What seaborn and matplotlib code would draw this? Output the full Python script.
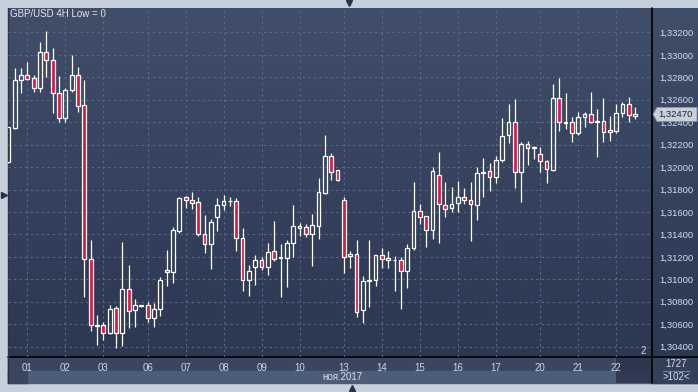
import numpy as np
import pandas as pd
import matplotlib.pyplot as plt
import matplotlib.transforms as mtransforms
from matplotlib.ticker import FuncFormatter, FixedLocator
import seaborn as sns

# GBP/USD 4H candles, 31 Oct 2017 12:00 .. 22 Nov 2017 12:00
opens = [1.32042, 1.32352, 1.32774, 1.32818, 1.32791, 1.32702, 1.33023, 1.32952, 1.32658, 1.32435,
         1.32684, 1.32818, 1.32551, 1.31178, 1.30586, 1.30589, 1.30524, 1.30741, 1.30524, 1.30913,
         1.30723, 1.30764, 1.30767, 1.30658, 1.30732, 1.31080, 1.31068, 1.31433, 1.31730, 1.31704,
         1.31686, 1.31401, 1.31311, 1.31558, 1.31659, 1.31695, 1.31695, 1.31365, 1.30990, 1.31112,
         1.31169, 1.31112, 1.31249, 1.31190, 1.31192, 1.31320, 1.31478, 1.31463, 1.31406, 1.31478,
         1.31769, 1.32096, 1.31971, 1.31704, 1.31204, 1.31222, 1.30723, 1.30984, 1.30996, 1.31213,
         1.31187, 1.31169, 1.31169, 1.31071, 1.31276, 1.31606, 1.31561, 1.31436, 1.31927, 1.31659,
         1.31632, 1.31677, 1.31730, 1.31704, 1.31665, 1.31947, 1.31962, 1.31909, 1.32060, 1.32283,
         1.32399, 1.31953, 1.32203, 1.32170, 1.32114, 1.32051, 1.31974, 1.32613, 1.32396, 1.32399,
         1.32301, 1.32444, 1.32470, 1.32405, 1.32408, 1.32310, 1.32325, 1.32479, 1.32560, 1.32453]
closes = [1.32355, 1.32774, 1.32818, 1.32783, 1.32702, 1.33023, 1.32952, 1.32658, 1.32435, 1.32684,
          1.32818, 1.32545, 1.31178, 1.30589, 1.30592, 1.30524, 1.30732, 1.30524, 1.30913, 1.30714,
          1.30767, 1.30767, 1.30652, 1.30732, 1.30990, 1.31062, 1.31436, 1.31722, 1.31704, 1.31683,
          1.31401, 1.31311, 1.31508, 1.31659, 1.31695, 1.31701, 1.31365, 1.30993, 1.31071, 1.31169,
          1.31112, 1.31240, 1.31184, 1.31195, 1.31320, 1.31472, 1.31454, 1.31406, 1.31481, 1.31775,
          1.32096, 1.31959, 1.31888, 1.31201, 1.31222, 1.30711, 1.30981, 1.30990, 1.31213, 1.31184,
          1.31169, 1.31175, 1.31071, 1.31276, 1.31606, 1.31552, 1.31436, 1.31962, 1.31668, 1.31623,
          1.31671, 1.31733, 1.31704, 1.31668, 1.31944, 1.31953, 1.31909, 1.32060, 1.32274, 1.32399,
          1.31953, 1.32203, 1.32167, 1.32176, 1.32051, 1.31980, 1.32613, 1.32399, 1.32402, 1.32301,
          1.32444, 1.32470, 1.32399, 1.32411, 1.32310, 1.32328, 1.32479, 1.32560, 1.32462, 1.32470]
highs = [1.32360, 1.32881, 1.32881, 1.32937, 1.32818, 1.33115, 1.33214, 1.33062, 1.32812, 1.32705,
         1.33000, 1.32892, 1.32777, 1.31350, 1.30681, 1.30619, 1.30770, 1.30762, 1.31335, 1.31127,
         1.30821, 1.30773, 1.30794, 1.30785, 1.31020, 1.31261, 1.31463, 1.31733, 1.31745, 1.31778,
         1.31730, 1.31570, 1.31537, 1.31722, 1.31748, 1.31730, 1.31722, 1.31454, 1.31124, 1.31216,
         1.31198, 1.31323, 1.31519, 1.31314, 1.31350, 1.31662, 1.31502, 1.31493, 1.31582, 1.31903,
         1.32283, 1.32123, 1.31974, 1.31730, 1.31252, 1.31350, 1.31029, 1.31350, 1.31216, 1.31276,
         1.31252, 1.31207, 1.31195, 1.31311, 1.31867, 1.31671, 1.31564, 1.32001, 1.32135, 1.31867,
         1.31823, 1.31876, 1.31814, 1.31867, 1.32001, 1.32081, 1.32037, 1.32099, 1.32435, 1.32563,
         1.32607, 1.32221, 1.32230, 1.32191, 1.32179, 1.32063, 1.32741, 1.32794, 1.32661, 1.32447,
         1.32491, 1.32491, 1.32670, 1.32518, 1.32613, 1.32456, 1.32563, 1.32583, 1.32625, 1.32533]
lows = [1.32034, 1.32343, 1.32664, 1.32777, 1.32673, 1.32673, 1.32806, 1.32485, 1.32405, 1.32405,
        1.32673, 1.32494, 1.30845, 1.30542, 1.30414, 1.30458, 1.30512, 1.30384, 1.30408, 1.30562,
        1.30577, 1.30753, 1.30622, 1.30571, 1.30675, 1.30943, 1.30967, 1.31415, 1.31638, 1.31629,
        1.31389, 1.31237, 1.31094, 1.31433, 1.31618, 1.31656, 1.31255, 1.30898, 1.30854, 1.30949,
        1.31083, 1.31041, 1.31166, 1.30845, 1.30934, 1.31201, 1.31389, 1.31377, 1.31121, 1.31362,
        1.31760, 1.31885, 1.31879, 1.31059, 1.31103, 1.30666, 1.30613, 1.30750, 1.30943, 1.31100,
        1.31103, 1.30898, 1.30738, 1.30919, 1.31261, 1.31496, 1.31291, 1.31362, 1.31326, 1.31552,
        1.31603, 1.31603, 1.31671, 1.31344, 1.31531, 1.31736, 1.31790, 1.31861, 1.32048, 1.32218,
        1.31817, 1.31692, 1.32022, 1.32075, 1.31959, 1.31855, 1.31968, 1.32325, 1.32343, 1.32227,
        1.32289, 1.32360, 1.32396, 1.32093, 1.32227, 1.32236, 1.32301, 1.32444, 1.32399, 1.32426]

price_ticks = [1.304, 1.306, 1.308, 1.310, 1.312, 1.314, 1.316, 1.318,
               1.320, 1.322, 1.324, 1.326, 1.328, 1.330, 1.332]
title_text = 'GBP/USD 4H Low = 0'
month_label = 'ноя.2017'
last_price = 1.32470
bar_count = '1727'
visible_count = '>102<'

# trading sessions: weekdays plus the Sunday evening candle
times = pd.date_range('2017-10-31 12:00', '2017-11-22 12:00', freq='4h')
times = times[(times.weekday < 5) | ((times.weekday == 6) & (times.hour == 20))]

df = pd.DataFrame({'time': times, 'open': opens, 'high': highs, 'low': lows, 'close': closes})
df['pos'] = np.arange(len(df))
df['up'] = df['close'] >= df['open']
df['top'] = df[['open', 'close']].max(axis=1)
df['bottom'] = df[['open', 'close']].min(axis=1)

sns.set_theme(style='dark')
plt.rcParams['font.family'] = ['Liberation Sans', 'DejaVu Sans']

W, H = 698, 392
fig = plt.figure(figsize=(W / 100, H / 100), dpi=100, facecolor='#c5d0dc')

# background panels in pixel coordinates
bg = fig.add_axes([0, 0, 1, 1])
bg.set_xlim(0, W)
bg.set_ylim(H, 0)
bg.axis('off')
grad = np.linspace(0, 1, 256)[:, None]
top_c = np.array([64, 78, 106]) / 255
bot_c = np.array([44, 55, 82]) / 255
img = top_c[None, None, :] * (1 - grad[..., None]) + bot_c[None, None, :] * grad[..., None]
bg.imshow(img, extent=(8, W, 357, 8), aspect='auto', zorder=0)
bg.add_patch(plt.Rectangle((8, 357), W - 8, 14, color='#3a4660', zorder=1))
bg.add_patch(plt.Rectangle((8, 371), W - 8, 12, color='#4d5c79', zorder=1))
bg.add_patch(plt.Rectangle((8, 371), 19, 12, color='#3a4660', zorder=1))
bg.add_patch(plt.Rectangle((652, 357), W - 652, 26, color='#33405a', zorder=1))
bg.add_patch(plt.Rectangle((615, 357), 37, 26, facecolor='#2c374e', edgecolor='#56627a',
                           linewidth=0.6, alpha=0.9, zorder=3))
bg.plot([8, W], [357, 357], color='black', lw=1.2, zorder=4)
bg.plot([652, 652], [8, 383], color='black', lw=1.2, zorder=4)
bg.plot([8, 8], [8, 383], color='#2a3348', lw=1, zorder=4)
bg.plot([663, 690], [370.5, 370.5], color='#8090aa', lw=0.6, zorder=4)
bg.text(676, 364, bar_count, color='#d5dcea', fontsize=7, ha='center', va='center', zorder=5)
bg.text(676, 377, visible_count, color='#d5dcea', fontsize=7, ha='center', va='center', zorder=5)
bg.text(342, 377.5, month_label, color='#d5dcea', fontsize=7, ha='center', va='center', zorder=5)
bg.text(10, 14, title_text, color='#e2e8f2', fontsize=7, ha='left', va='center', zorder=5)
bg.text(643, 351, '2', color='#d5dcea', fontsize=7, ha='center', va='center', zorder=5)
bg.plot([349], [3], marker='v', color='#27324a', markersize=5, zorder=5)
bg.plot([352], [388], marker='^', color='#27324a', markersize=5, zorder=5)
bg.plot([3.5], [195], marker='>', color='#27324a', markersize=5, zorder=5)

# candle axes
ax = fig.add_axes([8 / W, 35 / H, 644 / W, 349 / H])
ax.set_facecolor('none')
ax.set_xlim(-0.05, 101.66)
ax.set_ylim(1.30308, 1.33418)

red = '#e3163e'
ax.vlines(df['pos'], df['low'], df['bottom'], color='white', lw=0.9, zorder=2)
ax.vlines(df['pos'], df['top'], df['high'], color='white', lw=0.9, zorder=2)
body_h = (df['top'] - df['bottom']).clip(lower=0.00001)
ax.bar(df['pos'], body_h, bottom=df['bottom'], width=0.6,
       color=np.where(df['up'], 'none', red), edgecolor='white', linewidth=0.9, zorder=3)

ax.yaxis.tick_right()
ax.yaxis.set_major_locator(FixedLocator(price_ticks))
ax.yaxis.set_major_formatter(FuncFormatter(lambda v, _: f'{v:.5f}'.replace('.', ',')))
day_starts = df[df['time'].dt.hour == 0]
ax.xaxis.set_major_locator(FixedLocator(day_starts['pos'].tolist()))
ax.set_xticklabels(day_starts['time'].dt.strftime('%d'))
ax.tick_params(axis='y', length=0, pad=5, labelsize=6.8, labelcolor='#d5dcea')
ax.tick_params(axis='x', length=0, pad=4, labelsize=7, labelcolor='#c9d6ea')
ax.grid(True, color='#5b6b8b', linestyle=(0, (2, 3)), linewidth=0.8, zorder=1)
for s in ax.spines.values():
    s.set_visible(False)

# last price tag
tr = mtransforms.blended_transform_factory(ax.transAxes, ax.transData)
px = 1 / 644
hh = 7 / 11220
tag = plt.Polygon([(1 + px, last_price), (1 + 5 * px, last_price + hh), (1 + 45 * px, last_price + hh),
                   (1 + 45 * px, last_price - hh), (1 + 5 * px, last_price - hh)],
                  closed=True, transform=tr, facecolor='#c9d0da', edgecolor='#8a94a6',
                  linewidth=0.6, clip_on=False, zorder=6)
ax.add_patch(tag)
ax.text(1 + 6 * px, last_price, f'{last_price:.5f}'.replace('.', ','), transform=tr,
        color='#1c2435', fontsize=6.8, ha='left', va='center', clip_on=False, zorder=7)

plt.savefig('out.png', dpi=100, facecolor=fig.get_facecolor())
